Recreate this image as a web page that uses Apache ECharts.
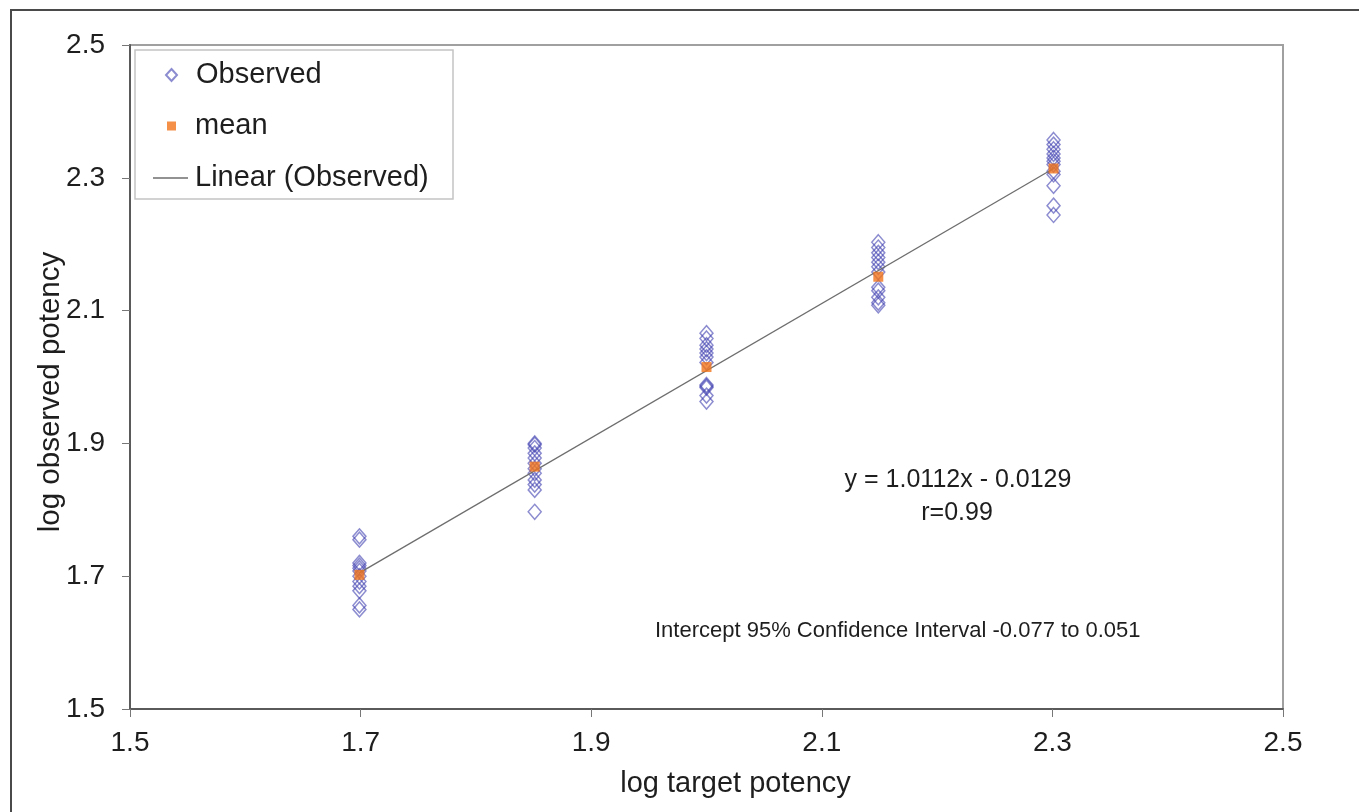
<!DOCTYPE html>
<html>
<head>
<meta charset="utf-8">
<script src="https://cdn.jsdelivr.net/npm/echarts@6/dist/echarts.min.js"></script>
<style>
  html, body { margin: 0; padding: 0; background: #fff; }
  #wrap { position: relative; width: 1359px; height: 812px; overflow: hidden; }
  #frame { position: absolute; left: 10px; top: 9px; width: 1400px; height: 900px;
           border-top: 2px solid #4a4a4a; border-left: 2px solid #4a4a4a; }
  #mychart { position: absolute; left: 0; top: 0; width: 1359px; height: 812px; }
</style>
</head>
<body>
<div id="wrap">
  <div id="frame"></div>
  <div id="mychart"></div>
</div>
<script>
// log target potency levels (x)
const targetLog = [1.699, 1.851, 2.0, 2.149, 2.301];
// observed log potency per level
const obs170 = [1.760, 1.755, 1.720, 1.716, 1.712, 1.708, 1.700, 1.692, 1.685, 1.678, 1.656, 1.650];
const obs185 = [1.900, 1.898, 1.893, 1.885, 1.878, 1.870, 1.862, 1.855, 1.845, 1.838, 1.830, 1.797];
const obs200 = [2.066, 2.058, 2.048, 2.042, 2.036, 2.030, 2.022, 1.988, 1.986, 1.984, 1.972, 1.963];
const obs215 = [2.203, 2.195, 2.187, 2.180, 2.173, 2.166, 2.158, 2.135, 2.130, 2.120, 2.112, 2.108];
const obs230 = [2.357, 2.350, 2.343, 2.336, 2.330, 2.325, 2.320, 2.310, 2.305, 2.288, 2.258, 2.244];
// means
const meanLog = [1.702, 1.865, 2.015, 2.151, 2.314];
// linear trend end points
const trendX = [1.699, 2.301];
const trendY = [1.705, 2.314];
const tickLabels = ['1.5', '1.7', '1.9', '2.1', '2.3', '2.5'];

const obsGroups = [obs170, obs185, obs200, obs215, obs230];
const observedData = [];
obsGroups.forEach((g, i) => {
    g.forEach(v => observedData.push([targetLog[i], v]));
});
const meanData = meanLog.map((v, i) => [targetLog[i], v]);
const trendData = trendX.map((x, i) => [x, trendY[i]]);

const font = 'Liberation Sans, Arial, sans-serif';
const txt = '#1e1e1e';
const fmt = v => tickLabels[Math.round((v - 1.5) / 0.2)] || v.toFixed(1);

// one legend per entry so every icon can have its own size
const legendText = { fontFamily: font, fontSize: 29, color: txt, lineHeight: 30 };
const legends = [
    { left: 165, top: 60, itemWidth: 11, itemHeight: 12, textStyle: Object.assign({ padding: [0, 0, 0, 14] }, legendText),
      data: [{ name: 'Observed', icon: 'diamond' }] },
    { left: 167, top: 111, itemWidth: 9, itemHeight: 9, textStyle: Object.assign({ padding: [0, 0, 0, 14] }, legendText),
      data: [{ name: 'mean', icon: 'rect' }] },
    { left: 153, top: 163, itemWidth: 35, itemHeight: 1.5, textStyle: Object.assign({ padding: [0, 0, 0, 2] }, legendText),
      data: [{ name: 'Linear (Observed)', icon: 'rect', itemStyle: { color: '#6e6e6e', borderWidth: 0 } }] }
].map(l => Object.assign({ orient: 'vertical', padding: 0, selectedMode: false }, l));

const myChart = echarts.init(document.getElementById('mychart'));
myChart.setOption({
    animation: false,
    backgroundColor: 'transparent',
    grid: {
        left: 130, top: 45, right: 76, bottom: 103,
        show: true, borderColor: '#a0a0a0', borderWidth: 2
    },
    legend: legends,
    xAxis: {
        type: 'value', min: 1.5, max: 2.5, interval: 0.2,
        name: 'log target potency', nameLocation: 'middle', nameGap: 60,
        nameMoveOverlap: false,
        nameTextStyle: { fontFamily: font, fontSize: 29, color: txt, padding: [0, 0, 0, 58] },
        axisLine: { lineStyle: { color: '#5a5a5a', width: 2 } },
        axisTick: { show: true, length: 8, lineStyle: { color: '#777' } },
        axisLabel: { fontFamily: font, fontSize: 28, color: txt, margin: 20, formatter: fmt },
        splitLine: { show: false }
    },
    yAxis: {
        type: 'value', min: 1.5, max: 2.5, interval: 0.2,
        name: 'log observed potency', nameLocation: 'middle', nameGap: 64,
        nameMoveOverlap: false,
        nameTextStyle: { fontFamily: font, fontSize: 29.5, color: txt, padding: [0, 30, 0, 0] },
        axisLine: { lineStyle: { color: '#5a5a5a', width: 2 } },
        axisTick: { show: true, length: 8, lineStyle: { color: '#777' } },
        axisLabel: { fontFamily: font, fontSize: 28, color: txt, margin: 25, formatter: fmt },
        splitLine: { show: false }
    },
    series: [
        {
            name: 'Observed',
            type: 'scatter',
            symbol: 'diamond',
            symbolSize: [13, 15],
            itemStyle: { color: 'rgba(255,255,255,0)', borderColor: 'rgba(64,64,176,0.75)', borderWidth: 1.5 },
            data: observedData,
            z: 2
        },
        {
            name: 'Linear (Observed)',
            type: 'line',
            symbol: 'none',
            lineStyle: { color: '#6e6e6e', width: 1.3 },
            data: trendData,
            z: 3
        },
        {
            name: 'mean',
            type: 'scatter',
            symbol: 'rect',
            symbolSize: 10,
            itemStyle: { color: '#f2741c' },
            data: meanData,
            z: 4
        }
    ],
    graphic: [
        {
            type: 'rect', z: 1,
            shape: { x: 135, y: 50, width: 318, height: 149 },
            style: { fill: '#fff', stroke: '#c4c4c4', lineWidth: 1.5 }
        },
        {
            type: 'text', x: 958, y: 480,
            style: { text: 'y = 1.0112x - 0.0129', font: '25px ' + font, fill: txt, align: 'center', verticalAlign: 'middle' }
        },
        {
            type: 'text', x: 957, y: 513,
            style: { text: 'r=0.99', font: '25px ' + font, fill: txt, align: 'center', verticalAlign: 'middle' }
        },
        {
            type: 'text', x: 655, y: 631,
            style: { text: 'Intercept 95% Confidence Interval -0.077 to 0.051', font: '22px ' + font, fill: txt, align: 'left', verticalAlign: 'middle' }
        }
    ]
});
</script>
</body>
</html>
